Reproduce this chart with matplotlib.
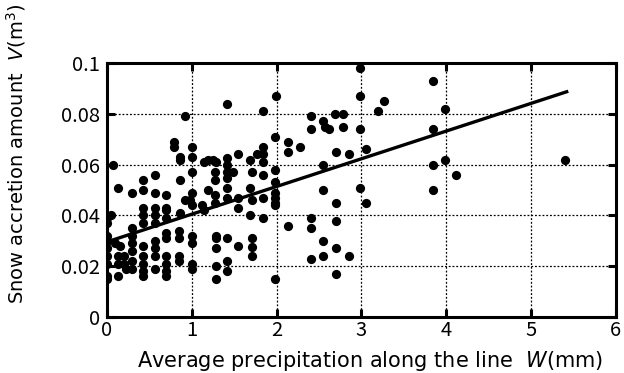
import matplotlib
matplotlib.use("Agg")
import matplotlib.pyplot as plt
from matplotlib.ticker import FuncFormatter
import numpy as np

plt.rcParams['font.family'] = ['Noto Sans CJK JP', 'DejaVu Sans']

# W (mm) and V (m3)
precip = [0.0, 0.05, 0.0, 0.0, 0.0, 0.0, 0.0, 0.0, 0.0, 0.0, 0.07,
          0.13, 0.10, 0.15, 0.13, 0.13, 0.13,
          0.20, 0.20, 0.22,
          0.29, 0.29, 0.29, 0.29, 0.29, 0.29, 0.29,
          0.43, 0.43, 0.43, 0.43, 0.43, 0.43, 0.43, 0.43, 0.43, 0.43,
          0.57, 0.57, 0.57, 0.57, 0.57, 0.57, 0.57, 0.57, 0.57,
          0.70, 0.70, 0.70, 0.70, 0.70, 0.70, 0.70, 0.70, 0.70, 0.70,
          0.79, 0.79, 0.86, 0.86, 0.86, 0.86, 0.85, 0.85, 0.85, 0.85,
          0.92, 0.92,
          1.0, 1.0, 1.0, 1.0, 0.98, 1.0, 1.0, 1.0, 1.0, 1.0,
          1.12, 1.14, 1.14, 1.19, 1.19,
          1.25, 1.29, 1.27, 1.27, 1.27, 1.27, 1.28, 1.28, 1.28, 1.28, 1.28,
          1.42, 1.42, 1.42, 1.42, 1.42, 1.42, 1.42, 1.42, 1.42, 1.42, 1.49,
          1.55, 1.55, 1.55, 1.55,
          1.69, 1.71, 1.69, 1.71, 1.69, 1.71, 1.71, 1.71,
          1.84, 1.84, 1.77, 1.84, 1.84, 1.84, 1.84, 1.84,
          1.99, 1.98, 1.98, 1.98, 1.98, 1.98, 1.98, 1.98, 1.98,
          2.13, 2.13, 2.13, 2.28,
          2.41, 2.41, 2.41, 2.41, 2.41,
          2.55, 2.57, 2.62, 2.55, 2.55, 2.55, 2.55,
          2.69, 2.70, 2.70, 2.70, 2.70, 2.70,
          2.78, 2.78, 2.85, 2.85,
          2.98, 2.98, 2.98, 2.98, 3.05, 3.05, 3.19, 3.27,
          3.84, 3.84, 3.84, 3.84, 3.98, 3.98, 4.12, 5.40]
snow = [0.039, 0.040, 0.037, 0.032, 0.030, 0.027, 0.024, 0.021, 0.016, 0.015, 0.060,
        0.051, 0.029, 0.028, 0.024, 0.021, 0.016,
        0.024, 0.021, 0.019,
        0.049, 0.035, 0.032, 0.029, 0.026, 0.022, 0.019,
        0.054, 0.050, 0.043, 0.040, 0.037, 0.028, 0.024, 0.021, 0.018, 0.016,
        0.056, 0.049, 0.043, 0.040, 0.037, 0.030, 0.027, 0.024, 0.019,
        0.048, 0.043, 0.042, 0.039, 0.033, 0.031, 0.024, 0.021, 0.018, 0.016,
        0.069, 0.067, 0.063, 0.062, 0.054, 0.041, 0.034, 0.031, 0.024, 0.022,
        0.079, 0.046,
        0.067, 0.063, 0.057, 0.049, 0.046, 0.044, 0.032, 0.029, 0.021, 0.019,
        0.044, 0.042, 0.061, 0.062, 0.050,
        0.062, 0.061, 0.057, 0.054, 0.048, 0.045, 0.032, 0.031, 0.027, 0.020, 0.015,
        0.084, 0.0625, 0.060, 0.057, 0.0546, 0.051, 0.047, 0.031, 0.022, 0.018, 0.057,
        0.064, 0.047, 0.043, 0.028,
        0.062, 0.057, 0.051, 0.046, 0.040, 0.031, 0.0277, 0.024,
        0.081, 0.067, 0.064, 0.064, 0.061, 0.056, 0.047, 0.039,
        0.087, 0.071, 0.058, 0.053, 0.049, 0.047, 0.045, 0.044, 0.015,
        0.069, 0.065, 0.036, 0.067,
        0.079, 0.074, 0.039, 0.035, 0.023,
        0.077, 0.075, 0.074, 0.060, 0.050, 0.030, 0.024,
        0.080, 0.065, 0.045, 0.038, 0.027, 0.017,
        0.080, 0.075, 0.064, 0.024,
        0.098, 0.087, 0.074, 0.051, 0.066, 0.045, 0.081, 0.085,
        0.093, 0.074, 0.060, 0.050, 0.082, 0.062, 0.056, 0.062]

# regression line end points
fit_x = [0.0, 5.42]
fit_y = [0.0296, 0.0887]

fig = plt.figure(figsize=(6.24, 3.73), dpi=100)
ax = fig.add_axes([0.1715, 0.150, 0.8155, 0.681])

ax.scatter(precip, snow, s=44, color='black', zorder=3, linewidths=0)
ax.plot(fit_x, fit_y, color='black', linewidth=2.4, zorder=4)

ax.set_xlim(0, 6)
ax.set_ylim(0, 0.1)
ax.set_xticks(np.arange(0, 7, 1))
ax.set_yticks([0, 0.02, 0.04, 0.06, 0.08, 0.1])
ax.yaxis.set_major_formatter(FuncFormatter(lambda v, p: '%g' % round(v, 3)))
ax.grid(True, color='black', linestyle=(0, (1.5, 1.5)), linewidth=0.9)
ax.set_axisbelow(True)

for s in ax.spines.values():
    s.set_linewidth(2.2)
ax.tick_params(direction='in', length=6, width=2.2, labelsize=14.5,
               top=True, right=True, pad=2)
ax.tick_params(axis='y', pad=5)

ax.set_xlabel('Average precipitation along the line  $\\mathit{W}$(mm)',
              fontsize=15, family=['DejaVu Sans'])
ax.set_ylabel('Snow accretion amount  $\\mathit{V}$(m$^3$)',
              fontsize=14, family=['DejaVu Sans'])
ax.xaxis.set_label_coords(0.517, -0.125)
ax.yaxis.set_label_coords(-0.155, 0.645)

fig.savefig('out.png', dpi=100)
